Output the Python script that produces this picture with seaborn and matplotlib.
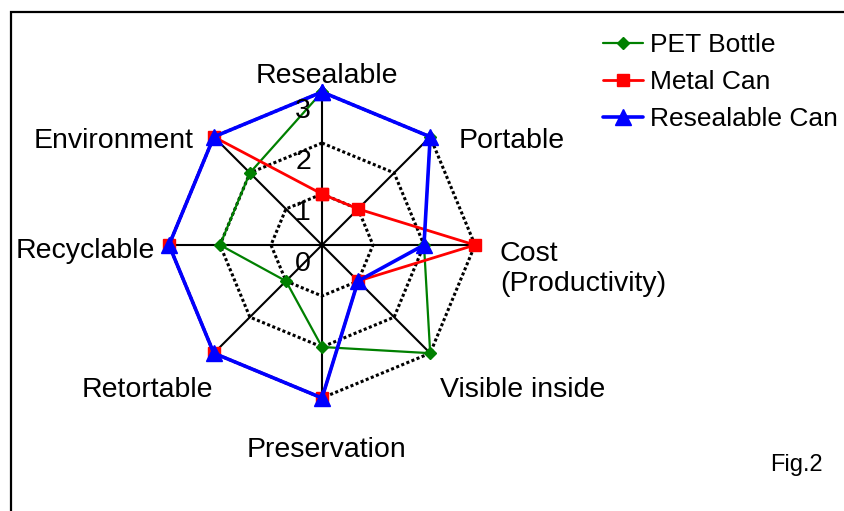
import numpy as np
import matplotlib
matplotlib.use('Agg')
import matplotlib.pyplot as plt
import seaborn as sns
from matplotlib.patches import Rectangle

# Dados do gráfico radar
categorias = ['Resealable', 'Portable', 'Cost\n(Productivity)', 'Visible inside',
              'Preservation', 'Retortable', 'Recyclable', 'Environment']
pet_bottle = [3, 3, 2, 3, 2, 1, 2, 2]
metal_can = [1, 1, 3, 1, 3, 3, 3, 3]
resealable_can = [3, 3, 2, 1, 3, 3, 3, 3]
niveis = [0, 1, 2, 3]
series = ['PET Bottle', 'Metal Can', 'Resealable Can']

sns.set_style('white')
plt.rcParams['font.family'] = ['Liberation Sans', 'DejaVu Sans']
plt.rcParams['text.color'] = 'black'

W, H = 845, 511
cx, cy, px = 322, 245, 51  # centro e pixels por unidade

fig = plt.figure(figsize=(W / 100, H / 100), dpi=100)
ax = fig.add_axes([0, 0, 1, 1])
ax.set_xlim(-cx / px, (W - cx) / px)
ax.set_ylim(-(H - cy) / px, cy / px)
ax.axis('off')

# moldura
fig.patches.append(Rectangle((11 / W, -0.1), 1.2, 1 - 12 / H + 0.1,
                             transform=fig.transFigure, fill=False,
                             edgecolor='black', linewidth=1.6))

n = len(categorias)
ang = np.pi / 2 - np.arange(n) * 2 * np.pi / n


def xy(vals):
    v = np.array(list(vals) + [vals[0]], dtype=float)
    a = np.append(ang, ang[0])
    return v * np.cos(a), v * np.sin(a)


# grade octogonal pontilhada
for r in niveis[1:]:
    gx, gy = xy([r] * n)
    ax.plot(gx, gy, color='black', linestyle=(0, (1, 0.8)), linewidth=2.2, zorder=1)
for a in ang:
    ax.plot([0, 3 * np.cos(a)], [0, 3 * np.sin(a)], color='black', linewidth=1.5, zorder=1)

# rótulos dos níveis
for r in niveis:
    ax.text(-0.37, r - 0.37, str(r), fontsize=20.5, ha='center', va='center',
            color='black', zorder=5)

# rótulos das categorias
dy = -0.06
pos_rotulos = [(0.1, 3.37, 'center'), (2.67, 2.10, 'left'), (3.49, -0.41, 'left'),
               (2.31, -2.78, 'left'), (0.08, -3.96, 'center'), (-2.14, -2.78, 'right'),
               (-3.27, -0.06, 'right'), (-2.51, 2.10, 'right')]
for cat, (tx, ty, ha) in zip(categorias, pos_rotulos):
    ax.text(tx, ty + dy, cat, fontsize=20.5, ha=ha, va='center', linespacing=1.2,
            color='black')

estilos = [('#008000', 'D', 6.5, 1.6), ('#ff0000', 's', 8, 2.0), ('#0000ff', '^', 11, 2.6)]
linhas = []
for nome, vals, (cor, mk, ms, lw) in zip(series, [pet_bottle, metal_can, resealable_can], estilos):
    sx, sy = xy(vals)
    ln, = ax.plot(sx, sy, color=cor, marker=mk, markersize=ms, linewidth=lw,
                  label=nome, zorder=3, clip_on=False)
    linhas.append(ln)

leg = ax.legend(handles=linhas, loc='upper left', bbox_to_anchor=(603 / W, 1 - 33 / H),
                frameon=False, fontsize=19, handlelength=1.5, handletextpad=0.3,
                labelspacing=0.5, borderpad=0, borderaxespad=0)
for t in leg.get_texts():
    t.set_color('black')

ax.text((770 - cx) / px, (cy - 465) / px, 'Fig.2', fontsize=17, ha='left', va='center',
        color='black')

fig.savefig('out.png', dpi=100)
